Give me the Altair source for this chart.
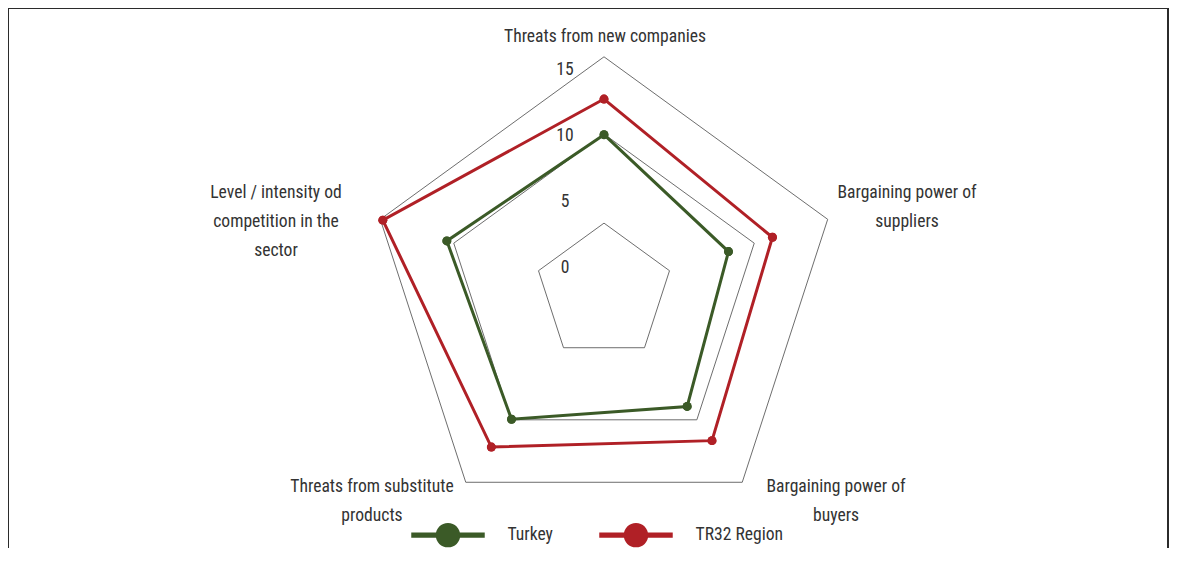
import math
import altair as alt
import pandas as pd

# ---------------- data ----------------
categories = [
    "Threats from new companies",
    "Bargaining power of suppliers",
    "Bargaining power of buyers",
    "Threats from substitute products",
    "Level / intensity od competition in the sector",
]
category_lines = [
    "Threats from new companies",
    "Bargaining power of\nsuppliers",
    "Bargaining power of\nbuyers",
    "Threats from substitute\nproducts",
    "Level / intensity od\ncompetition in the\nsector",
]
series_names = ["Turkey", "TR32 Region"]
turkey = [10.1, 8.1, 8.9, 10.1, 10.7]
tr32 = [12.8, 11.6, 12.1, 12.7, 15.8]
tick_values = [0, 5, 10, 15]
grid_levels = [3.4, 10.15, 16.0]

# ---------------- layout / style ----------------
W, H = 1161, 540
S = 13.2            # px per value unit
R0 = 24 / S         # radial offset of value 0
CX, CY = 596, 284   # centre in plot px
XD = [-CX / S, (W - CX) / S]
YD = [-(H - CY) / S, CY / S]
GREEN = "#3b5a27"
RED = "#b02026"
GRID = "#5c5c5c"
TEXT = "#333333"
FONT = "Roboto Condensed, Roboto, sans-serif"
FS = 17.6
# anchor of the first line of each category label (px from centre, y up)
label_anchor_px = [(1, 255), (303, 99), (232, -195), (-232, -195), (-328, 99)]
tick_dx_px = -39

n = len(categories)


def ang(k):
    return math.pi / 2 - 2 * math.pi * k / n


rows = []
for name, vals in zip(series_names, [turkey, tr32]):
    for k in range(n + 1):
        kk = k % n
        rows.append({"series": name, "order": k, "category": categories[kk],
                     "value": vals[kk], "angle": ang(kk)})
series_df = pd.DataFrame(rows)

grid_rows = []
for lv in grid_levels:
    for k in range(n + 1):
        grid_rows.append({"level": lv, "order": k, "angle": ang(k % n)})
grid_df = pd.DataFrame(grid_rows)

tick_df = pd.DataFrame({"v": tick_values, "label": [str(t) for t in tick_values]})
lab_df = pd.DataFrame({
    "label": category_lines,
    "lx": [a[0] / S for a in label_anchor_px],
    "ly": [a[1] / S for a in label_anchor_px],
})

xs = alt.Scale(domain=XD, nice=False, zero=False)
ys = alt.Scale(domain=YD, nice=False, zero=False)
color_scale = alt.Scale(domain=series_names, range=[GREEN, RED])
X = alt.X("x:Q", scale=xs, axis=None)
Y = alt.Y("y:Q", scale=ys, axis=None)

grid = alt.Chart(grid_df).transform_calculate(
    x=f"(datum.level + {R0}) * cos(datum.angle)",
    y=f"(datum.level + {R0}) * sin(datum.angle)",
).mark_line(color=GRID, strokeWidth=0.9).encode(
    x=X, y=Y, detail="level:N", order="order:Q",
)

base = alt.Chart(series_df).transform_calculate(
    x=f"(datum.value + {R0}) * cos(datum.angle)",
    y=f"(datum.value + {R0}) * sin(datum.angle)",
)

legend_symbol = ("M-1.5,-0.11H1.5V0.11H-1.5Z "
                 "M0.5,0A0.5,0.5 0 1,1 -0.5,0A0.5,0.5 0 1,1 0.5,0Z")

points_legend = base.transform_filter("datum.order < 5").mark_point(
    filled=True, size=80, opacity=1
).encode(
    x=X, y=Y,
    color=alt.Color(
        "series:N", scale=color_scale,
        legend=alt.Legend(
            title=None, orient="none", direction="horizontal",
            legendX=415.5, legendY=502.5, padding=0,
            symbolType=legend_symbol, symbolSize=2400, symbolStrokeWidth=0,
            symbolOpacity=1,
            labelFont=FONT, labelFontSize=FS, labelColor=TEXT,
            labelOffset=35, columnPadding=45, labelLimit=300,
        ),
    ),
)

lines = base.mark_line(strokeWidth=3).encode(
    x=X, y=Y,
    color=alt.Color("series:N", scale=color_scale),
    detail="series:N",
    order="order:Q",
)

points = base.transform_filter("datum.order < 5").mark_point(
    filled=True, size=80, opacity=1
).encode(
    x=X, y=Y,
    color=alt.Color("series:N", scale=color_scale),
)

ticks = alt.Chart(tick_df).transform_calculate(
    x=f"{tick_dx_px / S}",
    y=f"datum.v + {R0}",
).mark_text(font=FONT, fontSize=FS, color=TEXT, align="center", baseline="middle").encode(
    x=X, y=Y, text="label:N",
)

cat_labels = alt.Chart(lab_df).mark_text(
    font=FONT, fontSize=FS, color=TEXT, align="center", baseline="middle",
    lineBreak="\n", lineHeight=29,
).encode(
    x=alt.X("lx:Q", scale=xs, axis=None),
    y=alt.Y("ly:Q", scale=ys, axis=None),
    text="label:N",
)

frame_color = "#2b2b2b"
frame_left = alt.Chart(tick_df).mark_rule(color=frame_color, strokeWidth=2).encode(
    x=alt.value(0), y=alt.value(0), y2=alt.value(H))
frame_right = alt.Chart(tick_df).mark_rule(color=frame_color, strokeWidth=2).encode(
    x=alt.value(W - 1), y=alt.value(0), y2=alt.value(H))
frame_top = alt.Chart(tick_df).mark_rule(color=frame_color, strokeWidth=2).encode(
    x=alt.value(0), x2=alt.value(W), y=alt.value(0))

chart = alt.layer(
    grid, points_legend, lines, points, ticks, cat_labels,
    frame_left, frame_right, frame_top,
).properties(
    width=W, height=H, padding=0, autosize=alt.AutoSizeParams(type="none"),
).configure_view(stroke=None).configure(background="white")

chart.save("out.html", embed_options={"renderer": "svg", "actions": False})
